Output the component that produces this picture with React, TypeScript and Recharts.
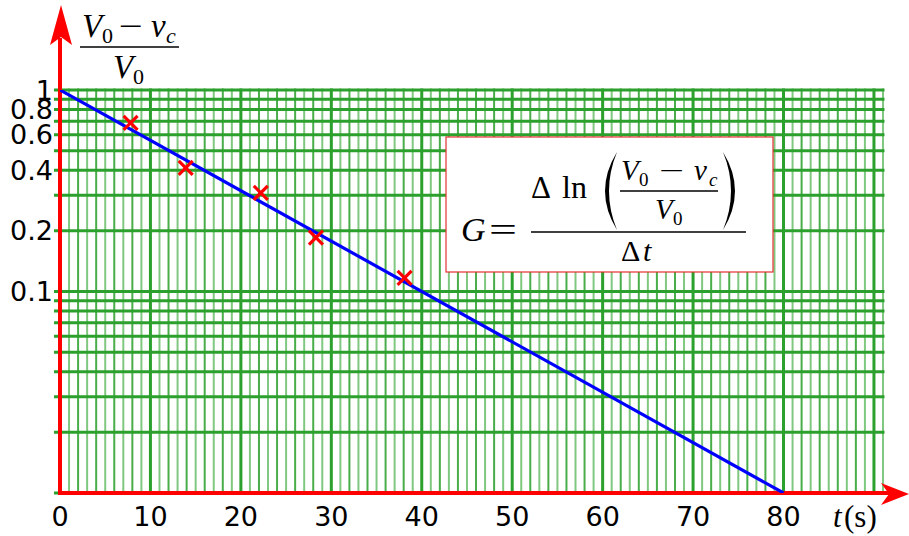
import { ComposedChart, Line, Scatter, XAxis, YAxis, ReferenceLine } from "recharts"

// measured points (t in seconds, (V0 - vc) / V0)
const measuredT = [7.8, 13.9, 22.2, 28.3, 38.1]
const measuredRatio = [0.687, 0.411, 0.309, 0.185, 0.117]

// fitted straight line on the semi-log paper
const fitT = [0, 80]
const fitRatio = [1, 0.01]

const xTicks = [0, 10, 20, 30, 40, 50, 60, 70, 80]
const yTicks = [0.1, 0.2, 0.4, 0.6, 0.8, 1]

// graph-paper rulings
const gridT = Array.from({ length: 92 }, (_, i) => i)
const gridRatio = [
  0.01, 0.02, 0.03, 0.04, 0.05, 0.06, 0.07, 0.08, 0.09,
  0.1, 0.2, 0.3, 0.4, 0.5, 0.6, 0.7, 0.8, 0.9, 1,
]

const measured = measuredT.map((t, i) => ({ t, ratio: measuredRatio[i] }))
const fit = fitT.map((t, i) => ({ t, ratio: fitRatio[i] }))

const GREEN = "#2ca02c"
const RED = "#ff0000"
const SANS = "DejaVu Sans, sans-serif"
const SERIF = "Liberation Serif, DejaVu Serif, serif"

function vLineColor(t: number) {
  if (t % 10 === 0) return { stroke: GREEN, w: 3 }
  return t % 2 === 0 ? { stroke: "#49ad49", w: 2 } : { stroke: "#80c880", w: 2 }
}

function Cross(props: any) {
  const { cx, cy } = props
  const s = 7
  return (
    <g stroke={RED} strokeWidth={3.2}>
      <line x1={cx - s} y1={cy - s} x2={cx + s} y2={cy + s} />
      <line x1={cx - s} y1={cy + s} x2={cx + s} y2={cy - s} />
    </g>
  )
}

function YTick({ y, payload }: any) {
  return (
    <text x={53} y={y} textAnchor="end" dominantBaseline="central" fontSize={27} fontFamily={SANS} fill="#000">
      {payload.value}
    </text>
  )
}

function XTick({ x, y, payload }: any) {
  return (
    <text x={x} y={y + 15} textAnchor="middle" dominantBaseline="central" fontSize={27} fontFamily={SANS} fill="#000">
      {payload.value}
    </text>
  )
}

function YArrowAxis(p: any) {
  const x = p.x1
  const bottom = Math.max(p.y1, p.y2)
  return (
    <g>
      <line x1={x} y1={bottom + 2} x2={x} y2={38} stroke={RED} strokeWidth={4} />
      <polygon points={`${x + 1},5 ${x - 10},45 ${x + 1},37 ${x + 12},45`} fill={RED} />
    </g>
  )
}

function XArrowAxis(p: any) {
  const y = p.y1
  const left = Math.min(p.x1, p.x2)
  return (
    <g>
      <line x1={left - 2} y1={y} x2={890} y2={y} stroke={RED} strokeWidth={4} />
      <polygon points={`909,${y + 1} 881,${y - 10} 889,${y + 1} 881,${y + 12}`} fill={RED} />
    </g>
  )
}

function Formula() {
  return (
    <svg width={909} height={536} style={{ position: "absolute", left: 0, top: 0, pointerEvents: "none" }}>
      {/* vertical axis title */}
      <g fontFamily={SERIF} fill="#000">
        <text x={82} y={37} fontSize={33} fontStyle="italic">V</text>
        <text x={102} y={43} fontSize={22}>0</text>
        <text x={119} y={36} fontSize={30} textLength={24} lengthAdjust="spacingAndGlyphs">−</text>
        <text x={151} y={37} fontSize={33} fontStyle="italic">v</text>
        <text x={166} y={43} fontSize={22} fontStyle="italic">c</text>
        <line x1={80} y1={47} x2={179} y2={47} stroke="#000" strokeWidth={1.5} />
        <text x={113} y={78} fontSize={33} fontStyle="italic">V</text>
        <text x={133} y={84} fontSize={22}>0</text>
      </g>

      {/* x axis unit */}
      <g fontFamily={SERIF} fill="#000" fontSize={31}>
        <text x={833} y={527} fontStyle="italic">t</text>
        <text x={844} y={527}>(s)</text>
      </g>

      {/* G formula box */}
      <rect x={446} y={137} width={327} height={135} fill="#fff" stroke="#e53030" strokeWidth={1.2} />
      <g fontFamily={SERIF} fill="#000">
        <text x={461} y={241} fontSize={34} fontStyle="italic">G</text>
        <text x={489} y={241} fontSize={34} textLength={28} lengthAdjust="spacingAndGlyphs">=</text>
        <text x={531} y={198} fontSize={31}>Δ</text>
        <text x={562} y={198} fontSize={32}>ln</text>
        <path d="M617,152 Q593,191 617,230 Q601,191 617,152 Z" fill="#000" />
        <text x={621} y={180} fontSize={29} fontStyle="italic">V</text>
        <text x={639} y={186} fontSize={19}>0</text>
        <text x={659} y={179} fontSize={25} textLength={25} lengthAdjust="spacingAndGlyphs">−</text>
        <text x={694} y={180} fontSize={29} fontStyle="italic">v</text>
        <text x={709} y={186} fontSize={19} fontStyle="italic">c</text>
        <line x1={620} y1={191} x2={718} y2={191} stroke="#000" strokeWidth={1.3} />
        <text x={655} y={219} fontSize={29} fontStyle="italic">V</text>
        <text x={673} y={225} fontSize={19}>0</text>
        <path d="M723,152 Q747,191 723,230 Q739,191 723,152 Z" fill="#000" />
        <line x1={531} y1={232} x2={746} y2={232} stroke="#000" strokeWidth={1.5} />
        <text x={621} y={261} fontSize={30}>Δ</text>
        <text x={643} y={261} fontSize={30} fontStyle="italic">t</text>
      </g>
    </svg>
  )
}

export default function App() {
  return (
    <div style={{ position: "absolute", left: 0, top: 0, width: 909, height: 536, background: "#fff" }}>
      <ComposedChart width={909} height={536} margin={{ top: 90, right: 26, bottom: 0, left: 0 }}>
        <XAxis
          type="number"
          dataKey="t"
          domain={[0, 91]}
          ticks={xTicks}
          interval={0}
          height={43}
          axisLine={false}
          tickLine={false}
          tick={<XTick />}
          allowDataOverflow
        />
        <YAxis
          type="number"
          dataKey="ratio"
          scale="log"
          domain={[0.01, 1]}
          ticks={yTicks}
          interval={0}
          width={60}
          axisLine={false}
          tickLine={false}
          tick={<YTick />}
          allowDataOverflow
        />

        {gridT.map((t) => {
          const c = vLineColor(t)
          return (
            <ReferenceLine
              key={`vx${t}`}
              x={t}
              stroke={c.stroke}
              strokeWidth={c.w}
              shape={(p: any) => (
                <line x1={p.x1} x2={p.x2} y1={Math.min(p.y1, p.y2) - 1.5} y2={Math.max(p.y1, p.y2)} stroke={c.stroke} strokeWidth={c.w} />
              )}
            />
          )
        })}
        {gridRatio.map((v) => (
          <ReferenceLine
            key={`hy${v}`}
            y={v}
            shape={(p: any) => (
              <line x1={Math.min(p.x1, p.x2) - 6} x2={Math.max(p.x1, p.x2) + 1.5} y1={p.y1} y2={p.y2} stroke={GREEN} strokeWidth={3} />
            )}
          />
        ))}

        <ReferenceLine x={0} shape={(p: any) => <YArrowAxis {...p} />} />
        <ReferenceLine y={0.01} shape={(p: any) => <XArrowAxis {...p} />} />

        <Line
          data={fit}
          dataKey="ratio"
          type="linear"
          stroke="#0000ff"
          strokeWidth={3.2}
          dot={false}
          activeDot={false}
          isAnimationActive={false}
        />
        <Scatter data={measured} dataKey="ratio" shape={<Cross />} isAnimationActive={false} />
      </ComposedChart>
      <Formula />
    </div>
  )
}
